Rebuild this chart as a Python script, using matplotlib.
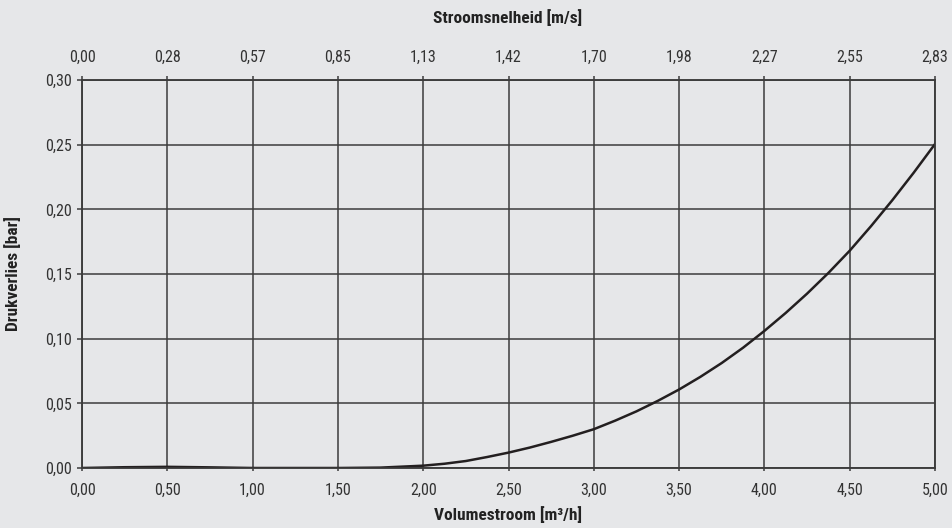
import matplotlib.pyplot as plt
from matplotlib import font_manager

# Volumestroom [m3/h] vs drukverlies [bar]
flow = [0.00, 0.25, 0.50, 0.75, 1.00, 1.25, 1.50, 1.75, 2.00, 2.125, 2.25,
        2.375, 2.50, 2.625, 2.75, 2.875, 3.00, 3.125, 3.25, 3.375, 3.50,
        3.625, 3.75, 3.875, 4.00, 4.125, 4.25, 4.375, 4.50, 4.625, 4.75,
        4.875, 5.00]
pressure_loss = [0.0, 0.0006, 0.0009, 0.0005, 0.0, 0.0, 0.0, 0.0003, 0.0018,
                 0.0033, 0.0054, 0.0085, 0.0119, 0.0158, 0.0202, 0.0249,
                 0.0300, 0.0366, 0.0438, 0.0519, 0.0607, 0.0705, 0.0812,
                 0.0930, 0.1060, 0.1199, 0.1348, 0.1508, 0.1680, 0.1870,
                 0.2071, 0.2283, 0.2505]

flow_ticks = [0.0, 0.5, 1.0, 1.5, 2.0, 2.5, 3.0, 3.5, 4.0, 4.5, 5.0]
speed_labels = ["0,00", "0,28", "0,57", "0,85", "1,13", "1,42", "1,70",
                "1,98", "2,27", "2,55", "2,83"]
loss_ticks = [0.0, 0.05, 0.10, 0.15, 0.20, 0.25, 0.30]

installed = {f.name for f in font_manager.fontManager.ttflist}
narrow = next((n for n in ["Roboto Condensed", "Archivo Narrow", "Asap Condensed",
                           "Barlow Semi Condensed"] if n in installed), "DejaVu Sans")
plt.rcParams["font.family"] = [narrow, "DejaVu Sans"]

bg = "#e6e7e9"
ink = "#3c3c3c"

fig = plt.figure(figsize=(9.52, 5.28), dpi=100, facecolor=bg)
ax = fig.add_axes([82 / 952, (528 - 468) / 528, (935 - 82) / 952, (468 - 80) / 528])
ax.set_facecolor(bg)

ax.plot(flow, pressure_loss, color="#231f20", lw=1.8, zorder=3)

ax.set_xlim(0, 5)
ax.set_ylim(0, 0.30)
ax.set_xticks(flow_ticks)
ax.set_xticklabels([f"{v:.2f}".replace(".", ",") for v in flow_ticks])
ax.set_yticks(loss_ticks)
ax.set_yticklabels([f"{v:.2f}".replace(".", ",") for v in loss_ticks])
ax.grid(True, color=ink, lw=1.1)
ax.tick_params(axis="both", colors=ink, labelcolor="#333333", labelsize=11.5,
               width=1.1)
ax.tick_params(axis="x", length=2.5, pad=8)
ax.tick_params(axis="y", length=3.6, pad=4)
for s in ax.spines.values():
    s.set_color(ink)
    s.set_linewidth(1.1)

top = ax.twiny()
top.set_xlim(ax.get_xlim())
top.set_xticks(flow_ticks)
top.set_xticklabels(speed_labels)
top.tick_params(axis="x", colors=ink, labelcolor="#333333", labelsize=11.5,
                length=3, width=1.1, pad=8)
for s in top.spines.values():
    s.set_color(ink)
    s.set_linewidth(1.1)

title_kw = dict(ha="center", va="center", fontsize=12.5, fontweight="bold",
                color="#222222")
fig.text(508 / 952, 1 - 18 / 528, "Stroomsnelheid [m/s]", **title_kw)
fig.text(508 / 952, 1 - 515 / 528, "Volumestroom [m³/h]", **title_kw)
fig.text(13 / 952, 1 - 274 / 528, "Drukverlies [bar]", rotation=90, **title_kw)

fig.savefig("out.png", dpi=100, facecolor=bg)
